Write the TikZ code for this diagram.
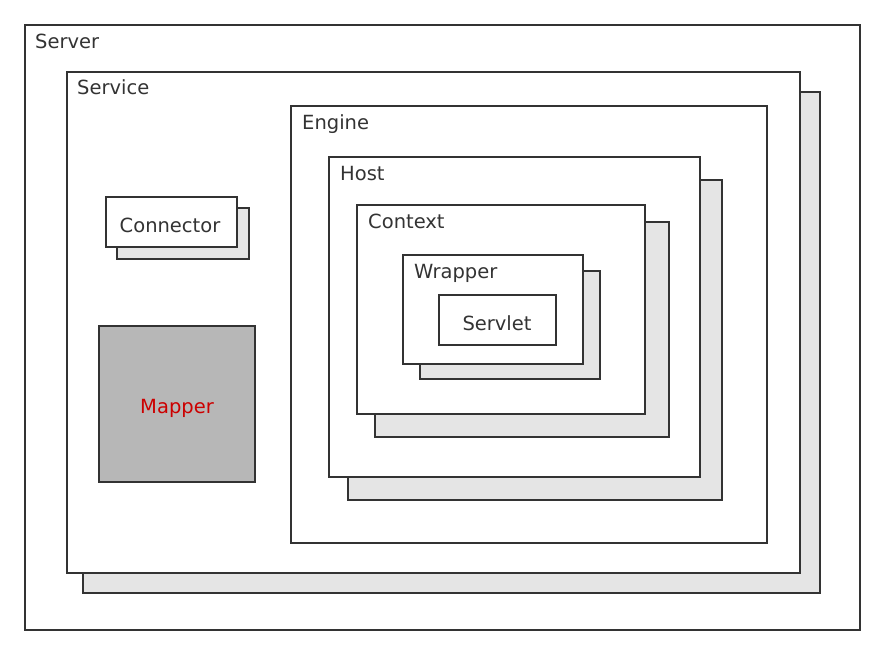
\documentclass[tikz,border=0pt]{standalone}
\usepackage{fontspec}
\setmainfont{DejaVu Sans}
\definecolor{linec}{HTML}{333333}
\definecolor{shade}{HTML}{E5E5E5}
\definecolor{mapfill}{HTML}{B7B7B7}
\definecolor{txt}{HTML}{333333}
\definecolor{redtxt}{HTML}{CC0000}
\begin{document}
\begin{tikzpicture}[x=1pt,y=-1pt,
  box/.style={draw=linec, line width=1.6pt, fill=white, rectangle, inner sep=0pt, outer sep=0pt, anchor=north west},
  shadowbox/.style={box, fill=shade},
  lbl/.style={anchor=base west, inner sep=0pt, text=txt, font=\fontsize{19.5}{22}\selectfont},
  clbl/.style={anchor=base, inner sep=0pt, text=txt, font=\fontsize{19.5}{22}\selectfont}]
\useasboundingbox[fill=white] (0,0) rectangle (885,655);
% Server
\node[box, minimum width=835pt, minimum height=605pt] (server) at (25,25) {};
% Service
\node[shadowbox, minimum width=737pt, minimum height=501pt] (servicesh) at (83,92) {};
\node[box, minimum width=733pt, minimum height=501pt] (service) at (67,72) {};
% Engine
\node[box, minimum width=476pt, minimum height=437pt] (engine) at (291,106) {};
% Host
\node[shadowbox, minimum width=374pt, minimum height=320pt] (hostsh) at (348,180) {};
\node[box, minimum width=371pt, minimum height=320pt] (host) at (329,157) {};
% Context
\node[shadowbox, minimum width=294pt, minimum height=215pt] (contextsh) at (375,222) {};
\node[box, minimum width=288pt, minimum height=209pt] (context) at (357,205) {};
% Wrapper
\node[shadowbox, minimum width=180pt, minimum height=108pt] (wrappersh) at (420,271) {};
\node[box, minimum width=180pt, minimum height=109pt] (wrapper) at (403,255) {};
% Servlet
\node[box, minimum width=117pt, minimum height=50pt] (servlet) at (439,295) {};
% Connector
\node[shadowbox, minimum width=132pt, minimum height=51pt] (connectorsh) at (117,208) {};
\node[box, minimum width=131pt, minimum height=50pt] (connector) at (106,197) {};
% Mapper
\node[box, fill=mapfill, minimum width=156pt, minimum height=156pt] (mapper) at (99,326) {};
% Labels
\node[lbl] (serverlbl) at (35,49) {Server};
\node[lbl] (servicelbl) at (77,95) {Service};
\node[lbl] (enginelbl) at (302,130) {Engine};
\node[lbl] (hostlbl) at (340,181) {Host};
\node[lbl] (contextlbl) at (368,228) {Context};
\node[lbl] (wrapperlbl) at (414,278) {Wrapper};
\node[clbl] (servletlbl) at (497,330) {Servlet};
\node[clbl] (connectorlbl) at (170,232) {Connector};
\node[clbl, text=redtxt] (mapperlbl) at (177,413) {Mapper};
\end{tikzpicture}
\end{document}
